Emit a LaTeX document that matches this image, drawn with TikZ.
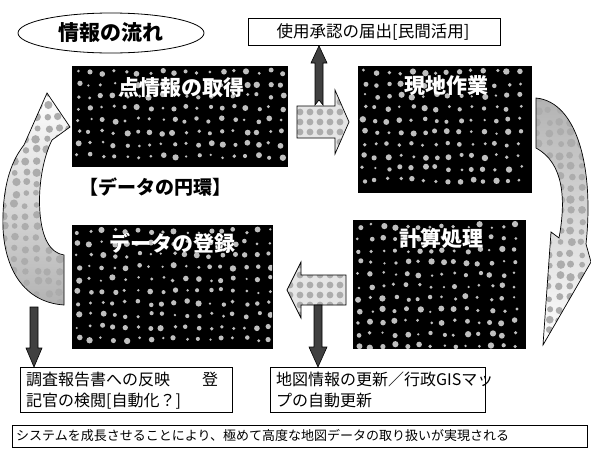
\documentclass[tikz,border=0pt]{standalone}
\usepackage{fontspec}
\setmainfont{Noto Sans CJK JP}
\usetikzlibrary{shapes.geometric}
\tikzset{
  darkbox/.style={draw=black, fill=black, inner sep=0pt, outer sep=0pt, anchor=north west},
  boxlabel/.style={text=white, font=\fontsize{21}{21}\selectfont\bfseries, inner sep=0pt},
  infobox/.style={draw=black, line width=0.8pt, fill=white, inner sep=0pt, anchor=north west},
  infotext/.style={font=\fontsize{16}{21}\selectfont, align=left, inner sep=0pt, anchor=north west},
  outline/.style={draw=black, line width=0.7pt},
  darkarrow/.style={draw=black, line width=0.6pt, fill=black!75},
  boxblob/.style={fill=gray!50},
  arrowblob/.style={fill=gray!65}
}
\pgfmathsetseed{7}
\begin{document}
\begin{tikzpicture}[x=1pt,y=-1pt]
\useasboundingbox (0,0) rectangle (591,450);
\fill[white] (0,0) rectangle (591,450);

% title ellipse
\node[ellipse, draw, line width=0.8pt, minimum width=186pt, minimum height=40pt,
      font=\fontsize{21}{21}\selectfont\bfseries] (title) at (111,33) {情報の流れ};

% top info box
\node[infobox, minimum width=252pt, minimum height=27pt] (use) at (248,18) {};
\node[font=\fontsize{16.5}{16.5}\selectfont, inner sep=0pt] (uset) at (373,32) {使用承認の届出[民間活用]};

% dark boxes
\node[darkbox, minimum width=215pt, minimum height=100pt] (b1) at (72,66) {};
\node[darkbox, minimum width=173pt, minimum height=126pt] (b2) at (358,66) {};
\node[darkbox, minimum width=200pt, minimum height=123pt] (b3) at (72,225) {};
\node[darkbox, minimum width=172pt, minimum height=128pt] (b4) at (353,220) {};
\begin{scope}
  \clip (b1.north west) rectangle (b1.south east);
  \foreach \xx in {78,90,...,284} \foreach \yy in {72,84,...,164}
    \fill[boxblob] (\xx+2*rand,\yy+2*rand) circle ({1.2+2.0*rnd});
\end{scope}
\begin{scope}
  \clip (b2.north west) rectangle (b2.south east);
  \foreach \xx in {364,376,...,528} \foreach \yy in {72,84,...,190}
    \fill[boxblob] (\xx+2*rand,\yy+2*rand) circle ({1.2+2.0*rnd});
\end{scope}
\begin{scope}
  \clip (b3.north west) rectangle (b3.south east);
  \foreach \xx in {78,90,...,270} \foreach \yy in {231,243,...,346}
    \fill[boxblob] (\xx+2*rand,\yy+2*rand) circle ({1.2+2.0*rnd});
\end{scope}
\begin{scope}
  \clip (b4.north west) rectangle (b4.south east);
  \foreach \xx in {359,371,...,523} \foreach \yy in {226,238,...,346}
    \fill[boxblob] (\xx+2*rand,\yy+2*rand) circle ({1.2+2.0*rnd});
\end{scope}
\node[boxlabel] (l1) at (181,88) {点情報の取得};
\node[boxlabel] (l2) at (446,86) {現地作業};
\node[boxlabel] (l3) at (172,243) {データの登録};
\node[boxlabel] (l4) at (441,238) {計算処理};

\node[font=\fontsize{19}{19}\selectfont\bfseries, inner sep=0pt] (cyc) at (155,187) {【データの円環】};

% right block arrow b1 -> b2
\def\rarrow{(297,106) -- (335,106) -- (335,90) -- (349,122) -- (335,154) -- (335,138) -- (297,138) -- cycle}
\fill[gray!20] \rarrow;
\begin{scope}
  \clip \rarrow;
  \foreach \xx in {300,310,...,346} \foreach \yy in {92,102,...,152}
    \fill[arrowblob] (\xx,\yy) circle (3.4);
\end{scope}
\draw[outline] \rarrow;
% up arrow to use box
\coordinate (upfoot) at (319,105);
\filldraw[darkarrow] (315,105) -- (315,63) -- (311,63) -- (use.south -| upfoot) -- (327,63) -- (323,63) -- (323,105) -- (319,100) -- cycle;

% left block arrow b4 -> b3
\def\larrow{(346,275) -- (301,275) -- (301,262) -- (287,290) -- (301,318) -- (301,305) -- (346,305) -- cycle}
\fill[gray!20] \larrow;
\begin{scope}
  \clip \larrow;
  \foreach \xx in {290,300,...,344} \foreach \yy in {265,275,...,316}
    \fill[arrowblob] (\xx,\yy) circle (3.4);
\end{scope}
\draw[outline] \larrow;

% bottom info boxes
\node[infobox, minimum width=212pt, minimum height=45pt] (rep) at (20,367) {};
\node[infotext] (rept) at (26,372) {調査報告書への反映　　登\\記官の検閲[自動化？]};
\node[infobox, minimum width=215pt, minimum height=45pt] (map) at (270,367) {};
\node[infotext] (mapt) at (276,372) {地図情報の更新／行政GISマッ\\プの自動更新};

% down arrows
\filldraw[darkarrow] (30,307) -- (38,307) -- (38,348) -- (42,348) -- (34,367) -- (26,348) -- (30,348) -- cycle;
\filldraw[darkarrow] (314,305) -- (322,305) -- (322,347) -- (327,347) -- (318,367) -- (309,347) -- (314,347) -- cycle;

% left curved arrow (b3 -> b1)
\def\leftcurve{(64,255) -- (64,305)
  .. controls (20,302) and (1,262) .. (3,215)
  .. controls (4,182) and (12,160) .. (24,145)
  -- (47,93) -- (70,127) -- (52,140)
  .. controls (42,160) and (38,190) .. (40,213)
  .. controls (42,238) and (50,253) .. (64,255) -- cycle}
\shade[top color=white, bottom color=gray!60] \leftcurve;
\begin{scope}
  \clip \leftcurve;
  \foreach \xx in {4,15,...,70} \foreach \yy in {95,106,...,305}
    \fill[arrowblob] (\xx+1.5*rand,\yy+1.5*rand) circle ({2.8+1.5*rnd});
\end{scope}
\draw[outline] \leftcurve;

% right curved arrow (b2 -> b4)
\def\rightcurve{(536,98) .. controls (578,102) and (594,170) .. (586,244)
  -- (591,262) -- (543,345) -- (551,232) -- (559,238)
  .. controls (566,200) and (564,163) .. (536,148) -- cycle}
\shade[top color=gray!60, bottom color=white] \rightcurve;
\begin{scope}
  \clip \rightcurve;
  \foreach \xx in {538,549,...,591} \foreach \yy in {100,111,...,345}
    \fill[arrowblob] (\xx+1.5*rand,\yy+1.5*rand) circle ({2.8+1.5*rnd});
\end{scope}
\draw[outline] \rightcurve;

% bottom summary box
\node[infobox, minimum width=575pt, minimum height=22pt] (sum) at (12,425) {};
\node[font=\fontsize{13}{13}\selectfont, inner sep=0pt, anchor=west] (sumt) at (16,436) {システムを成長させることにより、極めて高度な地図データの取り扱いが実現される};
\end{tikzpicture}
\end{document}
